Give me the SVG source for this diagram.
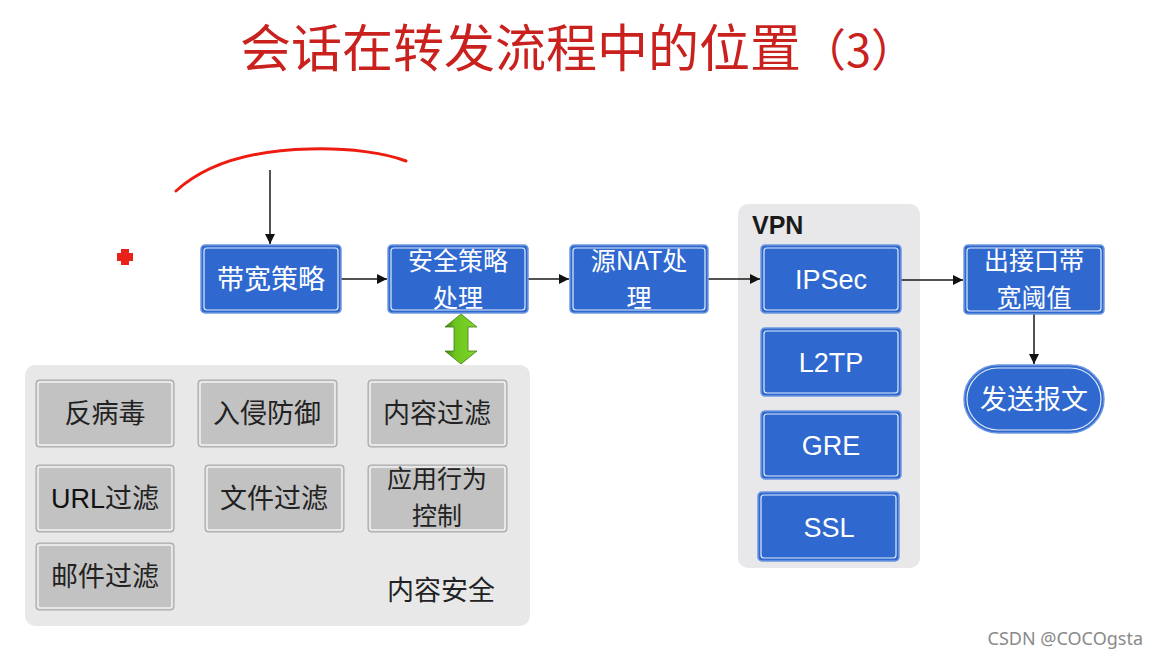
<svg xmlns="http://www.w3.org/2000/svg" width="1159" height="659" viewBox="0 0 1159 659">
<defs>
<style>
.blue{fill:#2f69d0;stroke:#6d98e0;stroke-width:1.5}
.inner{fill:none;stroke:#ffffff;stroke-width:1.2;opacity:0.85}
.gray{fill:#c2c2c2;stroke:#a9a9a9;stroke-width:1}
.ginner{fill:none;stroke:#f4f4f4;stroke-width:1.5}
.wt{font-family:"Noto Sans CJK SC","Liberation Sans",sans-serif;fill:#ffffff;font-size:27px;text-anchor:middle}
.w2{font-family:"Noto Sans CJK SC","Liberation Sans",sans-serif;fill:#ffffff;font-size:25px;text-anchor:middle}
.wl{font-family:"Liberation Sans","Noto Sans CJK SC",sans-serif;fill:#ffffff;font-size:27px;text-anchor:middle}
.dt{font-family:"Noto Sans CJK SC","Liberation Sans",sans-serif;fill:#222222;font-size:27px;text-anchor:middle}
.d2{font-family:"Noto Sans CJK SC","Liberation Sans",sans-serif;fill:#222222;font-size:25px;text-anchor:middle}
.conn{stroke:#1a1a1a;stroke-width:1.5;fill:none;marker-end:url(#ah)}
</style>
<marker id="ah" viewBox="0 0 10 10" refX="10" refY="5" markerWidth="11" markerHeight="10" markerUnits="userSpaceOnUse" orient="auto">
<path d="M0,0 L10,5 L0,10 z" fill="#111"/>
</marker>
<linearGradient id="gg" x1="0" y1="0" x2="1" y2="0">
<stop offset="0" stop-color="#3a8010"/>
<stop offset="0.3" stop-color="#6cc41e"/>
<stop offset="1" stop-color="#7fd62a"/>
</linearGradient>
</defs>
<rect width="1159" height="659" fill="#ffffff"/>

<text x="240" y="67" font-family="'Noto Sans CJK SC','Liberation Sans',sans-serif" font-size="51" fill="#c9211e">会话在转发流程中的位置<tspan font-size="45">（3）</tspan></text>

<path d="M176,191 C210,160 260,150 310,149 C350,148 385,153 406,161" fill="none" stroke="#ee1c10" stroke-width="3" stroke-linecap="round"/>
<path d="M121,249 h8 v4 h4 v8 h-4 v4 h-8 v-4 h-4 v-8 h4 z" fill="#e8211a"/>

<g id="content-security">
<rect x="25" y="365" width="505" height="261" rx="10" fill="#e8e8e9"/>
<text class="dt" x="441" y="600">内容安全</text>
</g>
<g id="vpn">
<rect x="738" y="204" width="182" height="364" rx="10" fill="#e8e7e9"/>
<text x="752" y="234" font-family="'Liberation Sans',sans-serif" font-size="25" font-weight="bold" fill="#1a1a1a">VPN</text>
</g>

<g id="connectors">
<line class="conn" x1="270" y1="170" x2="270" y2="244"/>
<line class="conn" x1="341" y1="279" x2="387" y2="279"/>
<line class="conn" x1="528" y1="279" x2="569" y2="279"/>
<line class="conn" x1="708" y1="279" x2="760" y2="279"/>
<line class="conn" x1="901" y1="280" x2="963" y2="280"/>
<line class="conn" x1="1034" y1="314" x2="1034" y2="364"/>
<polygon points="461,314 477,327 468,327 468,351 477,351 461,364 445,351 454,351 454,327 445,327" fill="url(#gg)" stroke="#3d7d10" stroke-width="0.8"/>
</g>

<g id="n-bw">
<rect class="blue" x="201" y="245" width="140" height="68" rx="4"/>
<rect class="inner" x="204" y="248" width="134" height="62" rx="3"/>
<text class="wt" x="271" y="289">带宽策略</text>
</g>
<g id="n-sec">
<rect class="blue" x="388" y="245" width="140" height="68" rx="4"/>
<rect class="inner" x="391" y="248" width="134" height="62" rx="3"/>
<text class="w2" x="458" y="270">安全策略</text>
<text class="w2" x="458" y="306.5">处理</text>
</g>
<g id="n-nat">
<rect class="blue" x="570" y="245" width="138" height="68" rx="4"/>
<rect class="inner" x="573" y="248" width="132" height="62" rx="3"/>
<text class="w2" x="639" y="270">源NAT处</text>
<text class="w2" x="639" y="306.5">理</text>
</g>
<g id="n-ipsec">
<rect class="blue" x="761" y="245" width="140" height="68" rx="4"/>
<rect class="inner" x="764" y="248" width="134" height="62" rx="3"/>
<text class="wl" x="831" y="289">IPSec</text>
</g>
<g id="n-l2tp">
<rect class="blue" x="761" y="328" width="140" height="68" rx="4"/>
<rect class="inner" x="764" y="331" width="134" height="62" rx="3"/>
<text class="wl" x="831" y="372">L2TP</text>
</g>
<g id="n-gre">
<rect class="blue" x="761" y="411" width="140" height="68" rx="4"/>
<rect class="inner" x="764" y="414" width="134" height="62" rx="3"/>
<text class="wl" x="831" y="455">GRE</text>
</g>
<g id="n-ssl">
<rect class="blue" x="758" y="492" width="141" height="69" rx="4"/>
<rect class="inner" x="761" y="495" width="135" height="63" rx="3"/>
<text class="wl" x="829" y="537">SSL</text>
</g>
<g id="n-out">
<rect class="blue" x="964" y="245" width="140" height="69" rx="4"/>
<rect class="inner" x="967" y="248" width="134" height="63" rx="3"/>
<text class="w2" x="1034" y="270">出接口带</text>
<text class="w2" x="1034" y="306.5">宽阈值</text>
</g>
<g id="n-send">
<rect class="blue" x="964" y="365" width="140" height="68" rx="34"/>
<rect class="inner" x="967" y="368" width="134" height="62" rx="31"/>
<text class="wt" x="1034" y="409">发送报文</text>
</g>

<g id="c-av">
<rect class="gray" x="36" y="380" width="138" height="67" rx="3"/>
<rect class="ginner" x="38" y="382" width="134" height="63" rx="2"/>
<text class="dt" x="105" y="423">反病毒</text>
</g>
<g id="c-ips">
<rect class="gray" x="198" y="380" width="139" height="67" rx="3"/>
<rect class="ginner" x="200" y="382" width="135" height="63" rx="2"/>
<text class="dt" x="267" y="423">入侵防御</text>
</g>
<g id="c-cf">
<rect class="gray" x="368" y="380" width="139" height="67" rx="3"/>
<rect class="ginner" x="370" y="382" width="135" height="63" rx="2"/>
<text class="dt" x="437" y="423">内容过滤</text>
</g>
<g id="c-url">
<rect class="gray" x="36" y="465" width="138" height="67" rx="3"/>
<rect class="ginner" x="38" y="467" width="134" height="63" rx="2"/>
<text class="dt" x="105" y="508"><tspan font-family="'Liberation Sans',sans-serif" fill="#111">URL</tspan>过滤</text>
</g>
<g id="c-file">
<rect class="gray" x="205" y="465" width="139" height="67" rx="3"/>
<rect class="ginner" x="207" y="467" width="135" height="63" rx="2"/>
<text class="dt" x="274" y="508">文件过滤</text>
</g>
<g id="c-app">
<rect class="gray" x="368" y="465" width="139" height="67" rx="3"/>
<rect class="ginner" x="370" y="467" width="135" height="63" rx="2"/>
<text class="d2" x="437" y="488">应用行为</text>
<text class="d2" x="437" y="524.5">控制</text>
</g>
<g id="c-mail">
<rect class="gray" x="36" y="543" width="138" height="67" rx="3"/>
<rect class="ginner" x="38" y="545" width="134" height="63" rx="2"/>
<text class="dt" x="105" y="586">邮件过滤</text>
</g>

<text x="1143" y="645" font-family="'Noto Sans','Liberation Sans',sans-serif" font-size="18" fill="#8a8a8a" text-anchor="end">CSDN @COCOgsta</text>
</svg>
